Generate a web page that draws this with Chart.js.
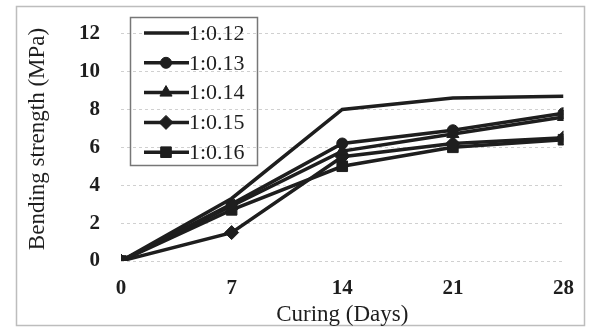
<!DOCTYPE html>
<html>
<head>
<meta charset="utf-8">
<script src="https://cdn.jsdelivr.net/npm/chart.js@4.4.1/dist/chart.umd.min.js"></script>
<style>
  html, body { margin: 0; padding: 0; background: #fff; }
  #wrap { width: 589px; height: 329px; position: relative; }
</style>
</head>
<body>
<div id="wrap"><canvas id="chart"></canvas></div>
<script>
// curing age (days)
const days = [0, 7, 14, 21, 28];
const yTicks = [0, 2, 4, 6, 8, 10, 12];

// bending strength (MPa) per mix ratio
const ratioLabels = ['1:0.12', '1:0.13', '1:0.14', '1:0.15', '1:0.16'];
const s012 = [0, 3.3, 8.0, 8.6, 8.7];
const s013 = [0, 3.0, 6.2, 6.9, 7.8];
const s014 = [0, 2.9, 5.8, 6.7, 7.6];
const s015 = [0, 1.5, 5.5, 6.2, 6.5];
const s016 = [0, 2.7, 5.0, 6.0, 6.4];

const yTitle = 'Bending strength (MPa)';
const ink = '#1e1e1e';
const serif = "'Liberation Serif', 'Times New Roman', serif";

function series(label, values, style, r) {
  return {
    label: label,
    data: values.map((v, i) => ({ x: days[i], y: v })),
    borderColor: ink,
    backgroundColor: ink,
    borderWidth: 3.5,
    pointStyle: style,
    pointRadius: r,
    pointBorderWidth: 1,
    pointHoverRadius: r,
    tension: 0
  };
}

// legend box drawn inside the plot, top-left
const boxLegend = {
  id: 'boxLegend',
  afterDraw(chart) {
    const ctx = chart.ctx;
    ctx.save();
    ctx.strokeStyle = '#777';
    ctx.lineWidth = 1.5;
    ctx.strokeRect(130.5, 17.5, 127, 148);
    ctx.font = '22px ' + serif;
    ctx.textBaseline = 'middle';
    chart.data.datasets.forEach((ds, i) => {
      const y = 33 + i * 29.8;
      ctx.strokeStyle = ink;
      ctx.lineWidth = 3.5;
      ctx.beginPath();
      ctx.moveTo(144, y);
      ctx.lineTo(189, y);
      ctx.stroke();
      if (ds.pointRadius > 0) {
        ctx.fillStyle = ink;
        ctx.lineWidth = 1;
        Chart.helpers.drawPoint(ctx, { pointStyle: ds.pointStyle, radius: ds.pointRadius, rotation: 0, borderWidth: 1 }, 166, y);
      }
      ctx.fillStyle = ink;
      ctx.fillText(ds.label, 189, y + 1);
    });

    // y axis title, sits a little above the plot centre in the original
    ctx.translate(38, 139);
    ctx.rotate(-Math.PI / 2);
    ctx.font = '23px ' + serif;
    ctx.textAlign = 'center';
    ctx.fillStyle = ink;
    ctx.fillText(yTitle, 0, 0);
    ctx.restore();
  }
};

// faint frame around the whole figure
const frame = {
  id: 'frame',
  beforeDraw(chart) {
    const ctx = chart.ctx;
    ctx.save();
    ctx.fillStyle = '#fff';
    ctx.fillRect(0, 0, chart.width, chart.height);
    ctx.strokeStyle = '#bdbdbd';
    ctx.lineWidth = 1.5;
    ctx.strokeRect(16.5, 6.5, 568, 319);
    ctx.restore();
  }
};

new Chart(document.getElementById('chart'), {
  type: 'line',
  data: {
    datasets: [
      series(ratioLabels[0], s012, 'circle', 0),
      series(ratioLabels[1], s013, 'circle', 5.5),
      series(ratioLabels[2], s014, 'triangle', 7),
      series(ratioLabels[3], s015, 'rectRot', 7),
      series(ratioLabels[4], s016, 'rect', 7.5)
    ]
  },
  options: {
    responsive: true,
    maintainAspectRatio: false,
    animation: false,
    layout: { padding: { top: 30, right: 20, left: 0, bottom: 0 } },
    plugins: {
      legend: { display: false },
      tooltip: { enabled: false }
    },
    scales: {
      x: {
        type: 'linear',
        min: 0,
        max: 28,
        afterFit: (s) => { s.height = 68; },
        afterBuildTicks: (s) => { s.ticks = days.map(v => ({ value: v })); },
        grid: { display: false, drawTicks: false },
        border: { display: false },
        ticks: { color: ink, padding: 15, font: { family: serif, size: 21, weight: 'bold' } },
        title: {
          display: true,
          text: 'Curing (Days)',
          color: ink,
          padding: { top: 0, bottom: 0 },
          font: { family: serif, size: 23 }
        }
      },
      y: {
        min: 0,
        max: 12,
        afterFit: (s) => { s.width = 121; },
        afterBuildTicks: (s) => { s.ticks = yTicks.map(v => ({ value: v })); },
        grid: { color: '#d0d0d0', lineWidth: 1, drawTicks: false },
        border: { display: false, dash: [3, 3] },
        ticks: { color: ink, padding: 21, font: { family: serif, size: 21, weight: 'bold' } }
      }
    }
  },
  plugins: [frame, boxLegend]
});
</script>
</body>
</html>
